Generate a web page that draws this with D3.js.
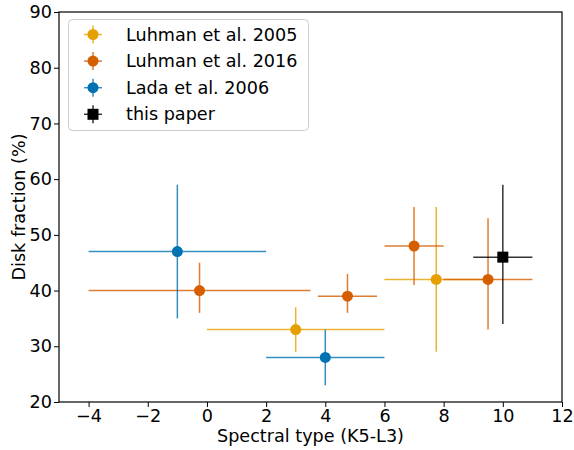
<!DOCTYPE html>
<html>
<head>
<meta charset="utf-8">
<script src="https://cdn.jsdelivr.net/npm/d3@7"></script>
<style>
  body { margin: 0; background: #fff; }
  text { font-family: "DejaVu Sans", sans-serif; }
</style>
</head>
<body>
<div id="chart"></div>
<script>
// DATA
var seriesNames = ["Luhman et al. 2005", "Luhman et al. 2016", "Lada et al. 2006", "this paper"];
var seriesColors = ["#E69F00", "#D55E00", "#0072B2", "#000000"];

// each point: x, y, xlo, xhi, ylo, yhi
var luhman2005 = [
    [3, 33, 0, 6, 29, 37],
    [7.75, 42, 6, 9.5, 29, 55]
];
var luhman2016 = [
    [-0.25, 40, -4, 3.5, 36, 45],
    [4.75, 39, 3.75, 5.75, 36, 43],
    [7, 48, 6, 8, 41, 55],
    [9.5, 42, 8, 11, 33, 53]
];
var lada2006 = [
    [-1, 47, -4, 2, 35, 59],
    [4, 28, 2, 6, 23, 33]
];
var thisPaper = [
    [10, 46, 9, 11, 34, 59]
];
var xTicks = [-4, -2, 0, 2, 4, 6, 8, 10, 12];
var yTicks = [20, 30, 40, 50, 60, 70, 80, 90];

var allSeries = [luhman2005, luhman2016, lada2006, thisPaper];

//SIZING
var W = 574, H = 450;
var margin = {top: 12, right: 12, bottom: 48, left: 59};
var fontSize = "17.6px";

var svg = d3.select("#chart").append("svg")
    .attr("width", W).attr("height", H);

var x = d3.scaleLinear().domain([-5, 12]).range([margin.left, W - margin.right]);
var y = d3.scaleLinear().domain([20, 90]).range([H - margin.bottom, margin.top]);

// AXES
var xAxis = svg.append("g")
    .attr("transform", "translate(0," + (H - margin.bottom) + ")")
    .call(d3.axisBottom(x).tickValues(xTicks).tickSize(5).tickPadding(3)
        .tickFormat(function (d) { return d < 0 ? "\u2212" + Math.abs(d) : d; }));
var yAxis = svg.append("g")
    .attr("transform", "translate(" + margin.left + ",0)")
    .call(d3.axisLeft(y).tickValues(yTicks).tickSize(5).tickPadding(2));

[xAxis, yAxis].forEach(function (a) {
    a.select(".domain").remove();
    a.selectAll("text").style("font-size", fontSize).attr("fill", "#000");
    a.selectAll("line").attr("stroke", "#000").attr("stroke-width", 1);
});

// frame
svg.append("rect")
    .attr("x", margin.left).attr("y", margin.top)
    .attr("width", W - margin.left - margin.right)
    .attr("height", H - margin.top - margin.bottom)
    .attr("fill", "none").attr("stroke", "#000").attr("stroke-width", 1.2);

// axis labels
svg.append("text")
    .attr("x", (margin.left + W - margin.right) / 2)
    .attr("y", 442)
    .attr("text-anchor", "middle")
    .style("font-size", fontSize)
    .text("Spectral type (K5-L3)");
svg.append("text")
    .attr("transform", "translate(25," + ((margin.top + H - margin.bottom) / 2) + ") rotate(-90)")
    .attr("text-anchor", "middle")
    .style("font-size", fontSize)
    .text("Disk fraction (%)");

// ERROR BARS + MARKERS
var plot = svg.append("g");
allSeries.forEach(function (pts, si) {
    var col = seriesColors[si];
    var g = plot.append("g");
    pts.forEach(function (p) {
        g.append("line")
            .attr("x1", x(p[2])).attr("x2", x(p[3]))
            .attr("y1", y(p[1])).attr("y2", y(p[1]))
            .attr("stroke", col).attr("stroke-width", 1.5).attr("stroke-opacity", 0.8);
        g.append("line")
            .attr("x1", x(p[0])).attr("x2", x(p[0]))
            .attr("y1", y(p[4])).attr("y2", y(p[5]))
            .attr("stroke", col).attr("stroke-width", 1.5).attr("stroke-opacity", 0.8);
        if (si == 3) {
            g.append("rect")
                .attr("x", x(p[0]) - 5.5).attr("y", y(p[1]) - 5.5)
                .attr("width", 11).attr("height", 11)
                .attr("fill", col);
        } else {
            g.append("circle")
                .attr("cx", x(p[0])).attr("cy", y(p[1]))
                .attr("r", 5.5).attr("fill", col);
        }
    });
});

// LEGEND
var legend = svg.append("g");
legend.append("rect")
    .attr("x", 68.5).attr("y", 19.5)
    .attr("width", 240).attr("height", 111)
    .attr("rx", 4)
    .attr("fill", "#fff").attr("fill-opacity", 0.8)
    .attr("stroke", "#ccc").attr("stroke-width", 1);

seriesNames.forEach(function (name, i) {
    var ly = 34.5 + i * 26.6;
    var lx = 93;
    var col = seriesColors[i];
    legend.append("line")
        .attr("x1", lx - 9).attr("x2", lx + 9).attr("y1", ly).attr("y2", ly)
        .attr("stroke", col).attr("stroke-width", 1.5).attr("stroke-opacity", 0.8);
    legend.append("line")
        .attr("x1", lx).attr("x2", lx).attr("y1", ly - 9).attr("y2", ly + 9)
        .attr("stroke", col).attr("stroke-width", 1.5).attr("stroke-opacity", 0.8);
    if (i == 3) {
        legend.append("rect").attr("x", lx - 5.5).attr("y", ly - 5.5)
            .attr("width", 11).attr("height", 11).attr("fill", col);
    } else {
        legend.append("circle").attr("cx", lx).attr("cy", ly).attr("r", 5.5).attr("fill", col);
    }
    legend.append("text")
        .attr("x", 126).attr("y", ly)
        .attr("dy", "0.35em")
        .style("font-size", fontSize)
        .text(name);
});
</script>
</body>
</html>
